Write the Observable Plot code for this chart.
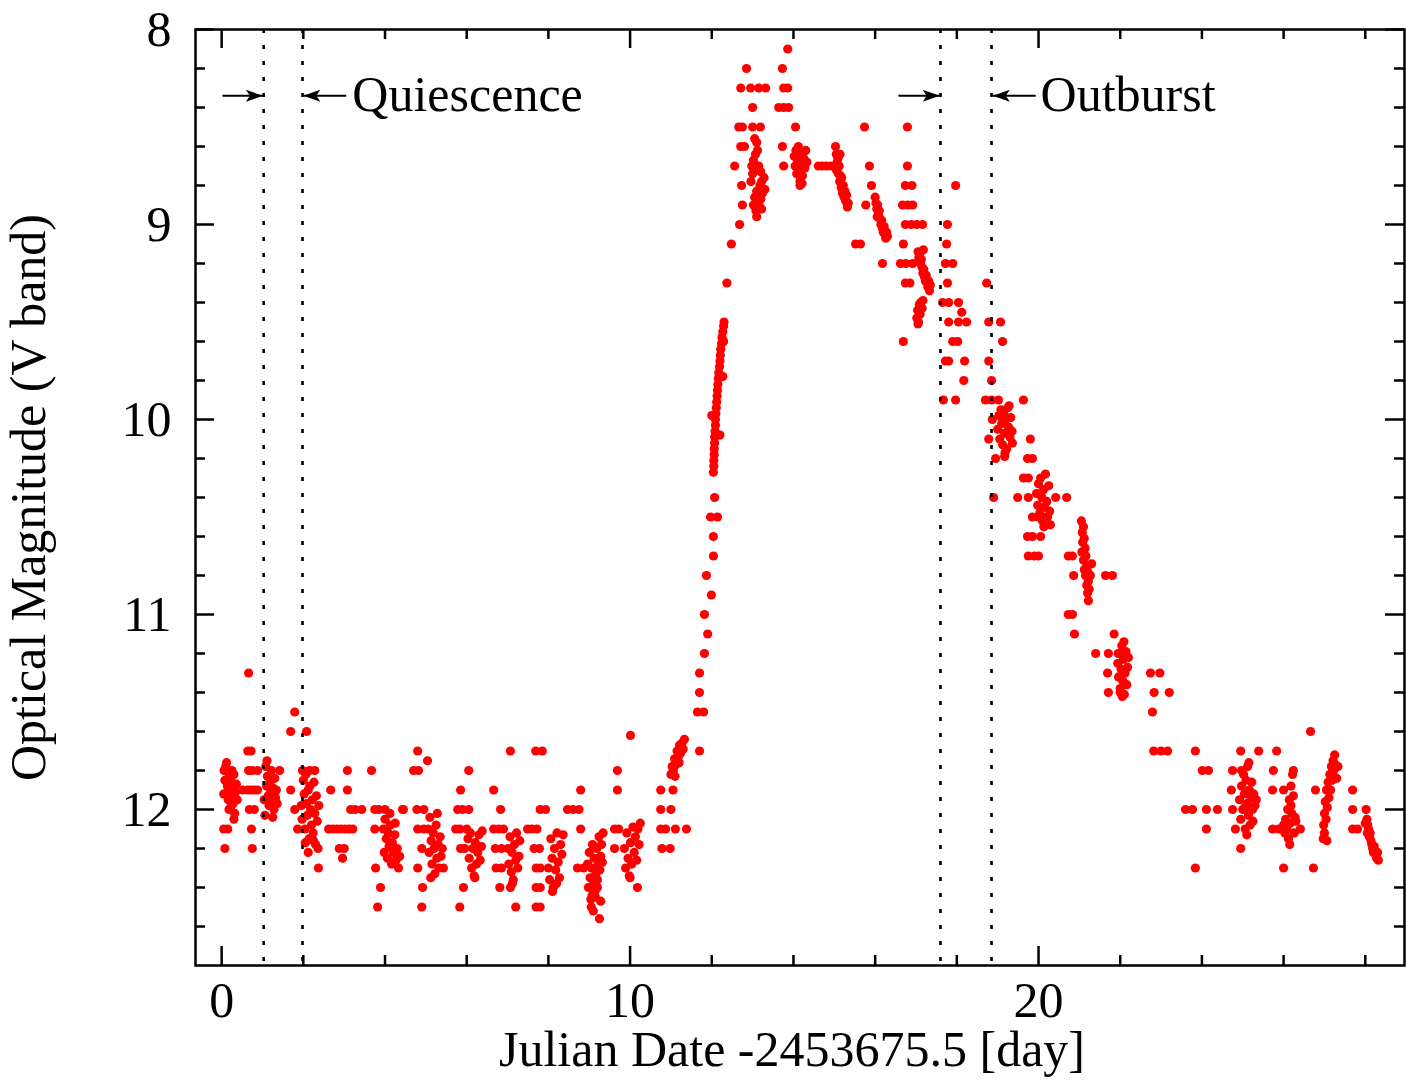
<!DOCTYPE html>
<html>
<head>
<meta charset="utf-8">
<script src="https://cdn.jsdelivr.net/npm/d3@7"></script>
<script src="https://cdn.jsdelivr.net/npm/@observablehq/plot@0.6"></script>
<style>
  html, body { margin: 0; padding: 0; background: #fff; }
  #chart svg { display: block; }
</style>
</head>
<body>
<div id="chart"></div>
<script>
// ---------- axis ticks ----------
const xMajorTicks = [0, 10, 20];
const xMinorTicks = [2, 4, 6, 8, 12, 14, 16, 18, 22, 24, 26, 28];
const yMajorTicks = [8, 9, 10, 11, 12];
const yMinorTicks = [8.2, 8.4, 8.6, 8.8, 9.2, 9.4, 9.6, 9.8, 10.2, 10.4, 10.6, 10.8,
                     11.2, 11.4, 11.6, 11.8, 12.2, 12.4, 12.6];

// ---------- phase boundaries & annotations ----------
const quiescenceBounds = [1.03, 1.98];
const outburstBounds = [17.6, 18.85];
const phaseLabels = [
  {label: "Quiescence", t: 3.2, m: 8.335},
  {label: "Outburst", t: 20.05, m: 8.335}
];
const phaseArrows = [
  {from: 0.02, to: 1.01, m: 8.34},
  {from: 3.05, to: 2.0, m: 8.34},
  {from: 16.57, to: 17.58, m: 8.34},
  {from: 19.93, to: 18.88, m: 8.34}
];

// ---------- photometry [day, V mag] ----------
const quiescenceVisual = [
  [0.66,11.3],[1.79,11.5],[1.69,11.6],[2.08,11.6],[0.64,11.7],[0.72,11.7],
  [0.05,12.1],[0.15,12.1],[0.08,12.2],[0.52,11.9],
  [0.66,11.8],[0.75,11.8],[0.88,11.8],
  [0.64,11.9],[0.72,11.9],[0.80,11.9],[0.88,11.9],
  [0.68,12.0],[0.80,12.0],[0.73,12.1],[0.75,12.2],
  [1.42,11.8],[1.69,11.9],[1.79,12.0],[1.86,12.1],
  [1.98,11.8],[2.28,11.8],[2.37,12.3],
  [2.67,11.9],[3.08,11.8],[3.08,11.9],
  [3.16,12.0],[3.27,12.0],[3.43,12.0],
  [2.62,12.1],[2.72,12.1],[2.82,12.1],[2.92,12.1],[3.02,12.1],[3.12,12.1],[3.21,12.1],
  [2.88,12.2],[3.00,12.2],[2.96,12.25],
  [3.67,11.8],[3.75,12.0],[3.85,12.0],[4.00,12.0],[3.75,12.1],[3.77,12.3],[3.89,12.4],[3.82,12.5],
  [4.43,12.0],
  [4.80,11.7],[5.04,11.75],[4.70,11.8],[4.82,11.8],
  [4.45,12.0],[4.78,12.0],[4.95,12.0],
  [4.80,12.1],[4.95,12.1],[4.90,12.2],[4.80,12.3],[4.92,12.4],[4.90,12.5],
  [5.43,12.3],
  [5.85,11.9],[5.78,12.0],[5.90,12.0],[6.05,12.0],
  [5.73,12.1],[5.83,12.1],[6.00,12.1],
  [5.85,12.2],[5.95,12.2],[5.92,12.4],[5.83,12.5],[6.05,11.8],
  [6.66,11.9],[6.83,12.0],[6.66,12.1],[6.78,12.1],[6.90,12.1],
  [6.70,12.2],[6.85,12.2],[6.72,12.3],[6.85,12.3],[6.81,12.4],[7.07,12.4],[7.20,12.5],[7.07,11.7],
  [7.49,12.1],[7.60,12.1],[7.72,12.1],[7.65,12.2],[7.78,12.2],[7.70,12.3],[7.80,12.3],
  [7.70,12.4],[7.80,12.4],[7.70,12.5],[7.80,12.5],[7.69,11.7],[7.85,11.7],[7.80,12.0],[7.93,12.0],
  [8.47,12.0],[8.60,12.0],[8.75,12.0],[8.79,11.9],[8.79,12.1],[8.71,12.3],[8.86,12.3],
  [9.25,12.56],[9.28,12.47],
  [9.69,11.8],[9.69,11.9],[9.62,12.1],[9.72,12.1],[9.62,12.2],[10.01,11.62],[10.18,12.4],
  [10.75,11.9],[11.05,11.9],[10.75,12.0],[11.00,12.0],
  [10.75,12.1],[10.87,12.1],[11.11,12.1],[11.38,12.1],[10.78,12.2],[10.98,12.2]
];

const quiescenceRuns = [
  // night 0
  [0.06,11.80],[0.08,11.85],[0.10,11.78],[0.12,11.92],[0.14,11.88],[0.16,11.95],[0.18,11.83],
  [0.20,11.90],[0.22,11.99],[0.24,11.86],[0.26,11.93],[0.28,11.97],[0.30,11.82],[0.32,12.02],
  [0.34,11.91],[0.36,11.87],[0.38,11.95],[0.12,11.76],[0.25,11.80],[0.30,12.05],[0.18,12.00],[0.05,11.92],
  // night 1
  [1.04,11.95],[1.06,12.03],[1.08,11.78],[1.10,11.88],[1.12,11.83],[1.14,11.93],[1.16,11.98],
  [1.18,11.86],[1.20,11.91],[1.22,11.80],[1.24,11.96],[1.26,11.89],[1.28,12.00],[1.30,11.84],
  [1.32,11.94],[1.34,11.90],[1.36,11.97],[1.11,11.75],[1.25,12.04],
  // night 2
  [1.95,11.98],[1.97,12.05],[2.00,11.85],[2.02,11.92],[2.04,12.10],[2.06,11.82],[2.08,11.97],
  [2.10,12.03],[2.12,11.90],[2.14,12.15],[2.16,11.88],[2.18,12.00],[2.20,12.08],[2.22,11.95],
  [2.24,12.12],[2.26,11.86],[2.28,12.02],[2.30,12.18],[2.32,11.93],[2.34,12.06],[2.36,12.20],
  [2.38,11.98],[2.15,11.80],[2.25,12.16],[2.05,12.17],[2.12,12.22],
  // night 4
  [3.96,12.10],[3.98,12.22],[4.00,12.05],[4.03,12.15],[4.06,12.25],[4.08,12.12],[4.10,12.19],
  [4.13,12.08],[4.16,12.28],[4.18,12.17],[4.21,12.22],[4.24,12.13],[4.27,12.26],[4.30,12.20],
  [4.33,12.30],[4.36,12.24],[4.12,12.02],[4.25,12.07],
  // night 5
  [5.06,12.10],[5.08,12.22],[5.10,12.04],[5.13,12.16],[5.15,12.28],[5.18,12.12],[5.20,12.20],
  [5.22,12.33],[5.25,12.08],[5.27,12.25],[5.30,12.18],[5.32,12.30],[5.35,12.14],[5.37,12.24],
  [5.40,12.20],[5.12,12.35],[5.28,12.02],
  // night 6
  [6.03,12.15],[6.06,12.25],[6.09,12.12],[6.12,12.30],[6.15,12.20],[6.18,12.34],[6.21,12.17],
  [6.24,12.28],[6.27,12.22],[6.30,12.13],[6.33,12.26],[6.36,12.19],[6.38,12.11],[6.20,12.35],
  // night 7
  [7.01,12.20],[7.03,12.28],[7.06,12.14],[7.09,12.32],[7.11,12.22],[7.14,12.36],[7.17,12.18],
  [7.20,12.26],[7.22,12.12],[7.25,12.30],[7.28,12.24],[7.30,12.16],[7.12,12.38],
  // night 8
  [8.00,12.30],[8.03,12.36],[8.06,12.15],[8.09,12.25],[8.12,12.40],[8.15,12.20],[8.18,12.31],
  [8.21,12.12],[8.24,12.27],[8.27,12.35],[8.30,12.18],[8.33,12.23],[8.36,12.13],[8.10,12.42],[8.20,12.38],
  // night 9
  [8.96,12.28],[8.98,12.40],[9.00,12.22],[9.02,12.35],[9.04,12.46],[9.06,12.30],[9.08,12.18],
  [9.10,12.38],[9.12,12.25],[9.14,12.42],[9.16,12.33],[9.18,12.20],[9.20,12.36],[9.22,12.28],
  [9.24,12.14],[9.26,12.31],[9.28,12.24],[9.30,12.18],[9.32,12.27],[9.34,12.12],[9.05,12.50],
  [9.10,12.52],[9.15,12.45],[9.07,12.44],[9.20,12.40],
  // night 10
  [9.86,12.20],[9.89,12.30],[9.92,12.12],[9.95,12.25],[9.98,12.34],[10.01,12.17],[10.04,12.28],
  [10.07,12.09],[10.10,12.22],[10.13,12.14],[10.16,12.26],[10.19,12.10],[10.22,12.18],[10.25,12.07],[10.00,12.35],
  // night 11
  [11.00,11.82],[11.03,11.78],[11.06,11.80],[11.09,11.74],[11.12,11.77],[11.15,11.70],[11.18,11.73],
  [11.21,11.67],[11.24,11.71],[11.27,11.66],[11.30,11.69],[11.33,11.64],[11.10,11.83],[11.20,11.76]
];

const riseVisual = [
  [12.07,10.4],[11.97,10.5],[12.14,10.5],[12.04,10.6],[12.04,10.7],[11.87,10.8],[11.99,10.9],
  [11.82,11.0],[11.90,11.1],[11.82,11.2],[11.70,11.3],[11.70,11.4],[11.65,11.5],[11.80,11.5],[11.70,11.7],
  [12.37,9.3],[12.48,9.1]
];

const riseRun = [
  [12.04,10.27],[12.05,10.24],[12.05,10.21],[12.06,10.18],[12.06,10.15],[12.07,10.12],[12.07,10.09],
  [12.08,10.06],[12.09,10.03],[12.09,10.00],[12.10,9.97],[12.11,9.94],[12.12,9.91],[12.13,9.88],
  [12.14,9.85],[12.15,9.82],[12.16,9.79],[12.17,9.76],[12.19,9.73],[12.20,9.70],[12.21,9.67],
  [12.22,9.64],[12.24,9.61],[12.25,9.58],[12.27,9.55],[12.29,9.52],[12.30,9.50],
  [12.00,9.98],[12.20,10.08],[12.29,9.60],[12.27,9.78]
];

const outburstVisual = [
  [13.86,8.1],[12.85,8.2],[13.73,8.2],
  [12.71,8.3],[12.95,8.3],[13.15,8.3],[13.32,8.3],[13.76,8.3],[13.86,8.3],
  [13.00,8.4],[13.64,8.4],[13.76,8.4],[13.88,8.4],
  [12.66,8.5],[12.75,8.5],[13.00,8.5],[13.19,8.5],[14.05,8.5],
  [12.71,8.6],[12.80,8.6],[13.73,8.6],
  [12.56,8.7],[13.76,8.7],[12.73,8.8],[12.75,8.9],[12.68,9.0],
  [14.61,8.7],[14.70,8.7],[14.80,8.7],[14.91,8.7],
  [15.74,8.5],[15.86,8.7],[15.91,8.8],[15.77,8.9],[15.52,9.1],[15.64,9.1],[16.18,9.2],
  [16.79,8.5],[16.79,8.7],[16.74,8.8],[16.90,8.8],[16.67,8.9],[16.80,8.9],[16.92,8.9],
  [16.74,9.0],[16.88,9.0],[17.02,9.0],[17.16,9.0],[16.69,9.1],[16.62,9.2],[16.75,9.2],[16.92,9.2],
  [16.74,9.3],[16.85,9.3],[16.69,9.6],
  [17.97,8.8],[17.77,9.0],[17.75,9.1],[17.72,9.2],[17.90,9.2],[17.77,9.3],
  [17.65,9.4],[17.80,9.4],[18.04,9.4],[18.12,9.45],[17.80,9.5],[18.04,9.5],[18.24,9.5],
  [17.90,9.6],[18.02,9.6],[17.72,9.7],[17.80,9.7],[18.19,9.7],[18.17,9.8],[17.67,9.9],[17.97,9.9]
];

const outburstRuns = [
  // night 13
  [13.05,8.56],[13.10,8.58],[13.12,8.62],[13.07,8.64],[13.02,8.67],[12.98,8.70],[13.00,8.74],
  [13.05,8.72],[13.15,8.70],[13.20,8.73],[13.22,8.78],[13.18,8.80],[13.24,8.84],[13.20,8.87],
  [13.10,8.83],[13.05,8.86],[13.02,8.90],[13.08,8.93],[13.15,8.90],[13.22,8.92],[13.10,8.96],
  [13.28,8.76],[13.30,8.82],[12.96,8.78],
  // night 14
  [14.02,8.65],[14.04,8.70],[14.06,8.62],[14.08,8.74],[14.10,8.67],[14.12,8.60],[14.14,8.72],
  [14.16,8.78],[14.18,8.64],[14.20,8.69],[14.22,8.75],[14.25,8.66],[14.28,8.71],[14.30,8.62],
  [14.33,8.68],[14.16,8.80],[14.21,8.79],
  // night 15
  [15.03,8.60],[15.05,8.64],[15.07,8.68],[15.05,8.72],[15.09,8.66],[15.10,8.74],[15.12,8.70],
  [15.13,8.78],[15.15,8.75],[15.17,8.81],[15.18,8.76],[15.20,8.84],[15.22,8.80],[15.24,8.86],
  [15.26,8.83],[15.28,8.88],[15.30,8.85],[15.32,8.91],[15.34,8.89],[15.14,8.64],[15.02,8.70],
  // night 16
  [16.00,8.86],[16.02,8.89],[16.04,8.92],[16.06,8.90],[16.08,8.95],[16.10,8.93],[16.12,8.97],
  [16.14,9.00],[16.16,8.98],[16.18,9.02],[16.20,9.04],[16.22,9.01],[16.24,9.05],[16.26,9.07],
  [16.28,9.04],[16.30,9.06],[16.05,8.96],
  // night 17
  [17.05,9.14],[17.07,9.17],[17.09,9.15],[17.11,9.20],[17.13,9.18],[17.15,9.22],[17.17,9.25],
  [17.19,9.23],[17.21,9.27],[17.23,9.29],[17.25,9.26],[17.27,9.30],[17.29,9.32],[17.31,9.29],
  [17.33,9.34],[17.35,9.31],[17.18,9.13],
  [17.02,9.48],[17.04,9.44],[17.06,9.50],[17.08,9.41],[17.10,9.46],[17.12,9.40],[17.15,9.43],
  [17.17,9.39],[17.05,9.51]
];

const declineVisual = [
  [18.73,9.3],[18.78,9.5],[19.07,9.5],[19.12,9.6],[18.78,9.7],[18.85,9.8],
  [18.70,9.9],[18.85,9.9],[19.02,9.9],[19.63,9.9],[18.87,10.0],
  [18.78,10.1],[19.80,10.1],[18.95,10.2],[19.17,10.19],[19.73,10.2],[19.85,10.2],
  [19.63,10.3],[19.75,10.3],
  [18.90,10.4],[19.49,10.4],[19.75,10.4],[20.42,10.4],[20.69,10.4],
  [19.85,10.5],[20.00,10.5],[20.10,10.5],[19.73,10.6],[19.85,10.6],[20.05,10.6],
  [19.75,10.7],[19.90,10.7],[20.00,10.7],
  [20.73,10.7],[20.83,10.7],[20.86,10.8],[21.64,10.8],[21.81,10.8],[20.73,11.0],[20.83,11.0],
  [20.88,11.1],[21.85,11.1],[21.40,11.2],[21.71,11.2],[21.95,11.2],
  [21.69,11.3],[22.74,11.3],[22.97,11.3],[21.71,11.4],[22.00,11.4],[22.83,11.4],[23.20,11.4],[22.79,11.5],
  [22.82,11.7],[23.00,11.7],[23.16,11.7]
];

const declineRuns = [
  // night 19
  [19.00,10.05],[19.03,9.98],[19.05,10.10],[19.08,9.95],[19.10,10.02],[19.12,10.13],[19.15,9.97],
  [19.17,10.07],[19.20,10.00],[19.22,10.15],[19.25,9.94],[19.27,10.04],[19.30,10.09],[19.32,9.99],
  [19.35,10.06],[19.36,10.12],[19.18,10.17],[19.28,9.93],
  // night 20
  [19.95,10.38],[19.98,10.44],[20.00,10.33],[20.03,10.48],[20.05,10.30],[20.08,10.40],[20.10,10.52],
  [20.12,10.36],[20.15,10.45],[20.17,10.28],[20.20,10.42],[20.22,10.50],[20.25,10.34],[20.27,10.47],
  [20.29,10.54],[20.13,10.55],[20.06,10.50],
  // night 21
  [21.05,10.52],[21.07,10.58],[21.10,10.55],[21.08,10.63],[21.12,10.61],[21.06,10.68],[21.14,10.66],
  [21.10,10.72],[21.16,10.70],[21.12,10.77],[21.18,10.75],[21.15,10.80],[21.20,10.78],[21.18,10.85],
  [21.22,10.83],[21.20,10.89],[21.24,10.87],[21.22,10.93],[21.27,10.80],[21.30,10.74],
  // night 22
  [21.94,11.25],[21.96,11.32],[21.98,11.20],[22.00,11.38],[22.02,11.28],[22.04,11.16],[22.06,11.34],
  [22.08,11.23],[22.10,11.41],[22.12,11.30],[22.14,11.19],[22.16,11.36],[22.18,11.27],[22.20,11.22],
  [22.05,11.42],[22.09,11.14]
];

const lateVisual = [
  [26.66,11.6],
  [23.84,11.7],[24.95,11.7],[25.39,11.7],[25.83,11.7],
  [24.01,11.8],[24.16,11.8],[24.75,11.8],[24.97,11.8],[25.75,11.8],[26.24,11.8],
  [24.72,11.9],[25.73,11.9],[26.00,11.9],[26.78,11.9],[27.69,11.9],
  [23.60,12.0],[23.77,12.0],[24.11,12.0],[24.38,12.0],[24.75,12.0],[27.69,12.0],
  [24.11,12.1],[24.82,12.1],[25.73,12.1],[25.88,12.1],[26.41,12.1],[27.69,12.1],[27.81,12.1],
  [24.95,12.2],[23.84,12.3],[26.00,12.3],[26.73,12.3]
];

const lateRuns = [
  // night 25
  [24.92,11.95],[24.95,12.05],[24.97,11.88],[25.00,12.00],[25.02,11.82],[25.04,11.92],[25.06,12.10],
  [25.08,11.85],[25.10,11.97],[25.12,11.78],[25.14,12.03],[25.16,11.90],[25.18,12.08],[25.20,11.94],
  [25.22,11.86],[25.24,12.00],[25.27,11.92],[25.30,11.98],[25.33,11.95],[25.10,12.13],[25.15,11.76],
  [25.05,11.99],[25.25,12.06],
  // night 26
  [26.05,12.05],[26.08,12.10],[26.10,12.00],[26.12,12.15],[26.14,11.95],[26.16,12.07],[26.18,11.88],
  [26.20,12.02],[26.22,11.82],[26.24,11.93],[26.26,12.12],[26.28,12.04],[26.15,12.18],[26.00,12.08],
  [26.03,12.12],[26.30,12.06],[26.18,11.98],
  // night 27
  [26.97,12.15],[26.98,12.08],[27.00,12.02],[27.00,12.12],[27.02,11.96],[27.04,12.05],[27.05,11.90],
  [27.07,11.99],[27.09,11.86],[27.11,11.94],[27.13,11.82],[27.15,11.90],[27.17,11.78],[27.19,11.85],
  [27.21,11.75],[27.23,11.80],[27.25,11.72],[27.27,11.77],[27.30,11.84],[27.33,11.78],[27.06,12.16],
  // night 28
  [28.02,12.00],[28.04,12.05],[28.06,12.08],[28.05,12.12],[28.08,12.10],[28.10,12.14],[28.12,12.12],
  [28.14,12.16],[28.16,12.18],[28.18,12.20],[28.20,12.22],[28.22,12.19],[28.25,12.23],[28.28,12.25],
  [28.30,12.22],[28.32,12.26],[28.00,12.07]
];

// ---------- build ----------
const photometry = [
  ...quiescenceVisual, ...quiescenceRuns, ...riseVisual, ...riseRun,
  ...outburstVisual, ...outburstRuns, ...declineVisual, ...declineRuns,
  ...lateVisual, ...lateRuns
].map(([t, m]) => ({t, m}));

const W = 1406, H = 1087;
const mL = 195, mR = 2, mT = 29, mB = 122;
const plotW = W - mL - mR, plotH = H - mT - mB;
const majorLen = 19, minorLen = 10;
const FONT = "'Liberation Serif', 'Times New Roman', serif";

const arrowHead = {
  draw(context) {
    context.moveTo(0, 0);
    context.lineTo(-17, -6);
    context.lineTo(-13, 0);
    context.lineTo(-17, 6);
    context.closePath();
  }
};

const tickStyle = {stroke: "black", strokeOpacity: 1, strokeWidth: 2.5};

const chart = Plot.plot({
  width: W,
  height: H,
  marginLeft: mL,
  marginRight: mR,
  marginTop: mT,
  marginBottom: mB,
  style: {fontFamily: FONT, fontSize: "50px", background: "white", color: "black"},
  x: {domain: [-0.64, 28.96]},
  y: {domain: [8, 12.8], reverse: true},
  marks: [
    Plot.dot(photometry, {x: "t", y: "m", r: 4.6, fill: "#ff0000", stroke: "none"}),
    Plot.ruleX([...quiescenceBounds, ...outburstBounds], {stroke: "black", strokeWidth: 2.6, strokeDasharray: "4,12"}),
    // inward ticks on all four sides
    Plot.gridX(xMajorTicks, {...tickStyle, insetTop: plotH - majorLen}),
    Plot.gridX(xMajorTicks, {...tickStyle, insetBottom: plotH - majorLen}),
    Plot.gridX(xMinorTicks, {...tickStyle, insetTop: plotH - minorLen}),
    Plot.gridX(xMinorTicks, {...tickStyle, insetBottom: plotH - minorLen}),
    Plot.gridY(yMajorTicks, {...tickStyle, insetRight: plotW - majorLen}),
    Plot.gridY(yMajorTicks, {...tickStyle, insetLeft: plotW - majorLen}),
    Plot.gridY(yMinorTicks, {...tickStyle, insetRight: plotW - minorLen}),
    Plot.gridY(yMinorTicks, {...tickStyle, insetLeft: plotW - minorLen}),
    Plot.frame({stroke: "black", strokeWidth: 2.5}),
    // tick labels
    Plot.axisX({ticks: xMajorTicks, tickSize: 0, tickPadding: 16, label: null, tickFormat: d => String(d), fontSize: 50}),
    Plot.axisY({ticks: yMajorTicks, tickSize: 0, tickPadding: 24, label: null, tickFormat: d => String(d), fontSize: 50}),
    // axis titles
    Plot.text(["Optical Magnitude (V band)"], {frameAnchor: "left", dx: -167, rotate: -90, textAnchor: "middle", lineAnchor: "middle", fontSize: 50}),
    Plot.text(["Julian Date -2453675.5 [day]"], {frameAnchor: "bottom", dy: 84, dx: -8, textAnchor: "middle", lineAnchor: "middle", fontSize: 50}),
    // phase arrows and labels
    Plot.link(phaseArrows, {x1: "from", x2: "to", y1: "m", y2: "m", stroke: "black", strokeWidth: 2}),
    Plot.dot(phaseArrows, {x: "to", y: "m", symbol: arrowHead, fill: "black", stroke: "none", rotate: d => (d.to > d.from ? 0 : 180)}),
    Plot.text(phaseLabels, {x: "t", y: "m", text: "label", textAnchor: "start", lineAnchor: "middle", fontSize: 50})
  ]
});

document.getElementById("chart").appendChild(chart);
</script>
</body>
</html>
